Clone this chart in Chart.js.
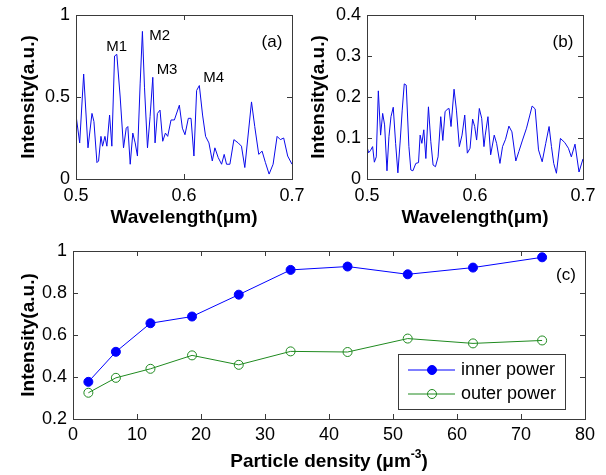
<!DOCTYPE html>
<html>
<head>
<meta charset="utf-8">
<script src="https://cdn.jsdelivr.net/npm/chart.js@4.4.0/dist/chart.umd.min.js"></script>
<style>
  body { margin: 0; background: #fff; }
  #wrap { position: relative; width: 606px; height: 475px; }
  #wrap canvas { position: absolute; left: 0; top: 0; }
</style>
</head>
<body>
<div id="wrap">
  <canvas id="panelA" width="606" height="475"></canvas>
  <canvas id="panelB" width="606" height="475"></canvas>
  <canvas id="panelC" width="606" height="475"></canvas>
</div>
<script>
// (a) inner spectrum
const wavelengthA = [0.5000, 0.5034, 0.5071, 0.5111, 0.5148, 0.5166, 0.5194, 0.5209, 0.5231, 0.5246,
  0.5268, 0.5286, 0.5311, 0.5332, 0.5357, 0.5378, 0.5409, 0.5440, 0.5465, 0.5480,
  0.5502, 0.5526, 0.5548, 0.5569, 0.5594, 0.5615, 0.5634, 0.5662, 0.5686, 0.5711,
  0.5732, 0.5754, 0.5778, 0.5803, 0.5828, 0.5849, 0.5880, 0.5911, 0.5957, 0.5985,
  0.6009, 0.6040, 0.6065, 0.6092, 0.6117, 0.6142, 0.6172, 0.6200, 0.6231, 0.6262,
  0.6286, 0.6317, 0.6348, 0.6372, 0.6394, 0.6425, 0.6462, 0.6502, 0.6532, 0.6563,
  0.6625, 0.6655, 0.6692, 0.6723, 0.6754, 0.6788, 0.6825, 0.6862, 0.6892, 0.6923,
  0.6960, 0.7000];
const intensityA = [0.39, 0.22, 0.64, 0.19, 0.40, 0.35, 0.10, 0.11, 0.26, 0.20,
  0.26, 0.20, 0.39, 0.20, 0.75, 0.76, 0.50, 0.19, 0.31, 0.32,
  0.09, 0.28, 0.22, 0.14, 0.58, 0.90, 0.56, 0.19, 0.38, 0.62,
  0.22, 0.40, 0.42, 0.23, 0.28, 0.26, 0.36, 0.36, 0.45, 0.31,
  0.27, 0.37, 0.37, 0.14, 0.54, 0.57, 0.39, 0.26, 0.22, 0.11,
  0.19, 0.13, 0.09, 0.15, 0.09, 0.09, 0.24, 0.22, 0.20, 0.07,
  0.47, 0.32, 0.15, 0.17, 0.10, 0.03, 0.09, 0.26, 0.24, 0.25,
  0.14, 0.09];
const peakNames = ['M1', 'M2', 'M3', 'M4'];

// (b) outer spectrum
const wavelengthB = [0.5000, 0.5015, 0.5031, 0.5052, 0.5068, 0.5086, 0.5105, 0.5126, 0.5145, 0.5163,
  0.5185, 0.5203, 0.5222, 0.5243, 0.5265, 0.5286, 0.5308, 0.5326, 0.5345, 0.5363,
  0.5388, 0.5406, 0.5425, 0.5452, 0.5477, 0.5492, 0.5508, 0.5526, 0.5545, 0.5569,
  0.5591, 0.5612, 0.5634, 0.5658, 0.5683, 0.5702, 0.5723, 0.5742, 0.5760, 0.5778,
  0.5806, 0.5828, 0.5855, 0.5880, 0.5905, 0.5929, 0.5954, 0.5978, 0.5997, 0.6015,
  0.6040, 0.6062, 0.6083, 0.6095, 0.6120, 0.6145, 0.6178, 0.6200, 0.6231, 0.6255,
  0.6283, 0.6314, 0.6342, 0.6378, 0.6406, 0.6440, 0.6477, 0.6508, 0.6529, 0.6557,
  0.6588, 0.6622, 0.6655, 0.6686, 0.6708, 0.6729, 0.6754, 0.6791, 0.6831, 0.6865,
  0.6892, 0.6926, 0.6963, 0.7000];
const intensityB = [0.079, 0.064, 0.069, 0.079, 0.041, 0.054, 0.215, 0.107, 0.160, 0.132,
  0.020, 0.103, 0.152, 0.175, 0.087, 0.015, 0.095, 0.168, 0.232, 0.229,
  0.079, 0.022, 0.020, 0.038, 0.040, 0.107, 0.087, 0.120, 0.050, 0.176,
  0.091, 0.034, 0.030, 0.054, 0.152, 0.094, 0.164, 0.170, 0.172, 0.128,
  0.219, 0.168, 0.079, 0.107, 0.156, 0.063, 0.075, 0.146, 0.128, 0.095,
  0.172, 0.148, 0.079, 0.107, 0.152, 0.059, 0.107, 0.087, 0.038, 0.079,
  0.097, 0.129, 0.115, 0.044, 0.067, 0.095, 0.124, 0.156, 0.178, 0.171,
  0.071, 0.042, 0.087, 0.128, 0.079, 0.038, 0.014, 0.099, 0.089, 0.075,
  0.054, 0.085, 0.017, 0.049];

// (c) power vs particle density
const density = [2.4, 6.7, 12.1, 18.6, 25.9, 34.0, 42.9, 52.3, 62.5, 73.3];
const innerPower = [0.377, 0.520, 0.656, 0.688, 0.792, 0.910, 0.926, 0.889, 0.921, 0.970];
const outerPower = [0.325, 0.396, 0.439, 0.503, 0.458, 0.522, 0.519, 0.583, 0.560, 0.574];
const seriesNames = ['inner power', 'outer power'];

const FONT = "'Liberation Sans', Arial, Helvetica, sans-serif";
Chart.defaults.font.family = FONT;
Chart.defaults.color = '#000';

const TICK = 5;
const EDGE = '#3a3a3a';

// matlab-like box with inward ticks on all four sides
const boxAxes = {
  id: 'boxAxes',
  afterDatasetsDraw(chart) {
    const { ctx, chartArea: a, scales: { x, y } } = chart;
    ctx.save();
    ctx.strokeStyle = EDGE;
    ctx.lineWidth = 1;
    ctx.beginPath();
    x.ticks.forEach(t => {
      const px = Math.round(x.getPixelForValue(t.value)) + 0.5;
      ctx.moveTo(px, a.bottom); ctx.lineTo(px, a.bottom - TICK);
      ctx.moveTo(px, a.top); ctx.lineTo(px, a.top + TICK);
    });
    y.ticks.forEach(t => {
      const py = Math.round(y.getPixelForValue(t.value)) + 0.5;
      ctx.moveTo(a.left, py); ctx.lineTo(a.left + TICK, py);
      ctx.moveTo(a.right, py); ctx.lineTo(a.right - TICK, py);
    });
    ctx.stroke();
    ctx.strokeRect(Math.round(a.left) + 0.5, Math.round(a.top) + 0.5,
      Math.round(a.right - a.left), Math.round(a.bottom - a.top));
    ctx.restore();
  }
};

// "(a)", "(b)", "(c)" in the top right corner
const panelTag = {
  id: 'panelTag',
  afterDraw(chart) {
    const o = chart.options.plugins.panelTag;
    const { ctx, chartArea: a } = chart;
    ctx.save();
    ctx.font = '17px ' + FONT;
    ctx.fillStyle = '#000';
    ctx.textAlign = 'center';
    ctx.textBaseline = 'middle';
    ctx.fillText(o.text, a.right - o.dx, a.top + o.dy);
    ctx.restore();
  }
};

// peak names placed in data units
const peakTags = {
  id: 'peakTags',
  afterDraw(chart) {
    const o = chart.options.plugins.peakTags;
    const { ctx, scales: { x, y } } = chart;
    ctx.save();
    ctx.font = '15px ' + FONT;
    ctx.fillStyle = '#000';
    ctx.textAlign = 'center';
    ctx.textBaseline = 'middle';
    o.at.forEach((p, i) => {
      ctx.fillText(peakNames[i], x.getPixelForValue(p[0]), y.getPixelForValue(p[1]));
    });
    ctx.restore();
  }
};

// x title with a superscript exponent
const supTitle = {
  id: 'supTitle',
  afterDraw(chart) {
    const { ctx, chartArea: a } = chart;
    const main = 'Particle density (\u03bcm', sup = '-3', tail = ')';
    ctx.save();
    ctx.fillStyle = '#000';
    ctx.textBaseline = 'middle';
    ctx.textAlign = 'left';
    const big = 'bold 19px ' + FONT, small = 'bold 12px ' + FONT;
    ctx.font = big;
    const w1 = ctx.measureText(main).width, w3 = ctx.measureText(tail).width;
    ctx.font = small;
    const w2 = ctx.measureText(sup).width;
    let x0 = (a.left + a.right) / 2 - (w1 + w2 + w3) / 2;
    const yc = 462;
    ctx.font = big;
    ctx.fillText(main, x0, yc);
    ctx.font = small;
    ctx.fillText(sup, x0 + w1, yc - 7);
    ctx.font = big;
    ctx.fillText(tail, x0 + w1 + w2, yc);
    ctx.restore();
  }
};

// legend box inside the plot of (c)
const boxLegend = {
  id: 'boxLegend',
  afterDraw(chart) {
    const { ctx, chartArea: a } = chart;
    const w = 167, h = 55;
    const left = a.right - 20 - w, top = a.bottom - 10 - h;
    ctx.save();
    ctx.fillStyle = '#fff';
    ctx.fillRect(left, top, w, h);
    ctx.strokeStyle = EDGE;
    ctx.lineWidth = 1;
    ctx.strokeRect(Math.round(left) + 0.5, Math.round(top) + 0.5, w, h);
    ctx.font = '18px ' + FONT;
    ctx.textBaseline = 'middle';
    ctx.textAlign = 'left';
    chart.data.datasets.forEach((ds, i) => {
      const yc = top + 16 + i * 24;
      ctx.strokeStyle = ds.borderColor;
      ctx.lineWidth = 1;
      ctx.beginPath();
      ctx.moveTo(left + 10, yc);
      ctx.lineTo(left + 57, yc);
      ctx.stroke();
      ctx.beginPath();
      ctx.arc(left + 34, yc, ds.pointRadius, 0, Math.PI * 2);
      ctx.fillStyle = ds.pointBackgroundColor;
      ctx.fill();
      ctx.stroke();
      ctx.fillStyle = '#000';
      ctx.fillText(ds.label, left + 63, yc);
    });
    ctx.restore();
  }
};

// plain numbers: 1 not 1.0
const plainNum = v => String(+Number(v).toFixed(3));

function linAxis(o) {
  return {
    type: 'linear',
    min: o.min,
    max: o.max,
    grid: { display: false, drawTicks: false },
    border: { display: false },
    ticks: {
      stepSize: o.step, padding: o.pad, font: { size: 18 }, color: '#000',
      maxRotation: 0, autoSkip: false, callback: plainNum
    },
    title: o.title
      ? { display: true, text: o.title, color: '#000', font: { size: 19, weight: 'bold' }, padding: o.titlePad }
      : { display: false },
    afterFit(scale) {
      if (o.width) scale.width = o.width;
      if (o.height) scale.height = o.height;
      scale.paddingLeft = 0;
      scale.paddingRight = 0;
      scale.paddingTop = 0;
      scale.paddingBottom = 0;
    }
  };
}

function points(xs, ys) {
  return xs.map((v, i) => ({ x: v, y: ys[i] }));
}

const base = {
  responsive: false,
  animation: false,
  devicePixelRatio: 1,
  plugins: { legend: { display: false }, tooltip: { enabled: false } }
};

new Chart(document.getElementById('panelA'), {
  type: 'line',
  data: {
    datasets: [{
      data: points(wavelengthA, intensityA),
      borderColor: 'rgb(10,10,235)', borderWidth: 1, pointRadius: 0, tension: 0
    }]
  },
  options: {
    ...base,
    layout: { padding: { left: 0, top: 15, right: 314, bottom: 243 } },
    scales: {
      x: linAxis({ min: 0.5, max: 0.7, step: 0.1, pad: 6, height: 53, title: 'Wavelength(\u03bcm)', titlePad: { top: 0, bottom: 2.6 } }),
      y: linAxis({ min: 0, max: 1, step: 0.5, pad: 6, width: 76, title: 'Intensity(a.u.)', titlePad: { top: 17.6, bottom: 0 } })
    },
    plugins: {
      ...base.plugins,
      panelTag: { text: '(a)', dx: 20, dy: 27 },
      peakTags: { at: [[0.5377, 0.805], [0.5775, 0.872], [0.5843, 0.665], [0.6275, 0.616]] }
    }
  },
  plugins: [boxAxes, panelTag, peakTags]
});

new Chart(document.getElementById('panelB'), {
  type: 'line',
  data: {
    datasets: [{
      data: points(wavelengthB, intensityB),
      borderColor: 'rgb(10,10,235)', borderWidth: 1, pointRadius: 0, tension: 0
    }]
  },
  options: {
    ...base,
    layout: { padding: { left: 303, top: 15, right: 23, bottom: 243 } },
    scales: {
      x: linAxis({ min: 0.5, max: 0.7, step: 0.1, pad: 6, height: 53, title: 'Wavelength(\u03bcm)', titlePad: { top: 0, bottom: 2.6 } }),
      y: linAxis({ min: 0, max: 0.4, step: 0.1, pad: 6, width: 64, title: 'Intensity(a.u.)', titlePad: { top: 4.6, bottom: 0 } })
    },
    plugins: { ...base.plugins, panelTag: { text: '(b)', dx: 20, dy: 27 } }
  },
  plugins: [boxAxes, panelTag]
});

new Chart(document.getElementById('panelC'), {
  type: 'line',
  data: {
    datasets: [{
      label: seriesNames[0],
      data: points(density, innerPower),
      borderColor: '#0000ff', borderWidth: 1, tension: 0,
      pointRadius: 4.5, pointBorderWidth: 1,
      pointBorderColor: '#0000ff', pointBackgroundColor: '#0000ff'
    }, {
      label: seriesNames[1],
      data: points(density, outerPower),
      borderColor: '#1f8a1f', borderWidth: 1, tension: 0,
      pointRadius: 4.5, pointBorderWidth: 1,
      pointBorderColor: '#1f8a1f', pointBackgroundColor: 'rgba(255,255,255,0)'
    }]
  },
  options: {
    ...base,
    layout: { padding: { left: 0, top: 251, right: 21, bottom: 0 } },
    scales: {
      x: linAxis({ min: 0, max: 80, step: 10, pad: 5, height: 56 }),
      y: linAxis({ min: 0.2, max: 1, step: 0.2, pad: 6, width: 73, title: 'Intensity(a.u.)', titlePad: { top: 17.6, bottom: 0 } })
    },
    plugins: { ...base.plugins, panelTag: { text: '(c)', dx: 19, dy: 24 } }
  },
  plugins: [boxAxes, panelTag, boxLegend, supTitle]
});
</script>
</body>
</html>
